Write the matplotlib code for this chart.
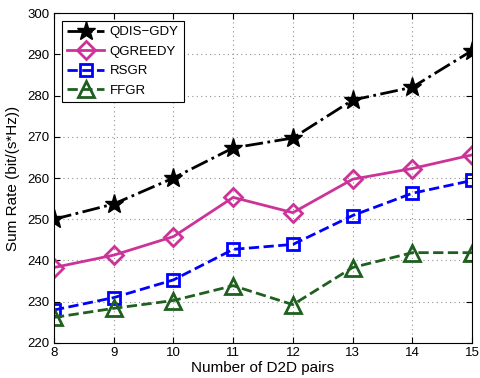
import matplotlib
matplotlib.use('Agg')
import matplotlib.pyplot as plt

# sum rate vs number of D2D pairs
pairs = [8, 9, 10, 11, 12, 13, 14, 15]
qdis_gdy = [250.0, 253.7, 260.0, 267.3, 269.7, 278.9, 282.0, 290.9]
qgreedy = [238.3, 241.3, 245.8, 255.3, 251.6, 259.7, 262.3, 265.6]
rsgr = [228.0, 231.0, 235.3, 242.7, 243.9, 250.9, 256.3, 259.4]
ffgr = [226.2, 228.4, 230.3, 233.9, 229.3, 238.3, 241.9, 241.9]

plt.rcParams['font.family'] = ['Liberation Sans', 'DejaVu Sans']

fig = plt.figure(figsize=(4.8, 3.78), dpi=100)
ax = fig.add_axes([0.1125, 0.0926, 0.8710, 0.8730])

ax.plot(pairs, qdis_gdy, color='black', linestyle='-.', linewidth=2,
	marker='*', markersize=14, markerfacecolor='black', label='QDIS\u2212GDY')
ax.plot(pairs, qgreedy, color='#cc3399', linestyle='-', linewidth=2,
	marker='D', markersize=9, markerfacecolor='none', markeredgewidth=2, label='QGREEDY')
ax.plot(pairs, rsgr, color='#0000ff', linestyle='--', linewidth=2,
	marker='s', markersize=8, markerfacecolor='none', markeredgewidth=2, label='RSGR')
ax.plot(pairs, ffgr, color='#1f5f1f', linestyle='--', linewidth=2,
	marker='^', markersize=11, markerfacecolor='none', markeredgewidth=2, label='FFGR')

ax.set_xlim(8, 15)
ax.set_ylim(220, 300)
ax.set_xticks(pairs)
ax.set_yticks(range(220, 301, 10))
ax.tick_params(direction='in', labelsize=9.5, top=True, right=True, length=4)
ax.tick_params(axis='x', pad=3)
ax.grid(True, linestyle=(0, (1, 3)), color='#909090', linewidth=0.8)
ax.set_xlabel('Number of D2D pairs', fontsize=11, labelpad=1)
ax.set_ylabel('Sum Rate (bit/(s*Hz))', fontsize=11, labelpad=5)

leg = ax.legend(loc='upper left', fontsize=9.5, fancybox=False, framealpha=1,
	edgecolor='black', handlelength=2.8, borderaxespad=0.6, labelspacing=0.55,
	handletextpad=0.4)
leg.get_frame().set_linewidth(0.8)

fig.savefig('out.png', dpi=100)
